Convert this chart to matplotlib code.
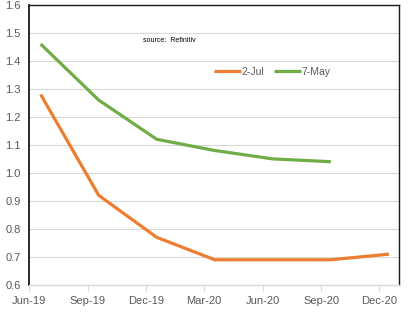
import matplotlib

matplotlib.use("Agg")
import matplotlib.pyplot as plt
import matplotlib.dates as mdates
from datetime import datetime

plt.rcParams["font.family"] = ["Liberation Sans", "DejaVu Sans"]

# contract dates (IMM expiries)
dates = ["2019-06-19", "2019-09-18", "2019-12-18", "2020-03-18",
         "2020-06-17", "2020-09-16", "2020-12-16"]
jul_2 = [1.28, 0.92, 0.77, 0.69, 0.69, 0.69, 0.71]
may_7 = [1.46, 1.26, 1.12, 1.08, 1.05, 1.04]
tick_months = ["2019-06-01", "2019-09-01", "2019-12-01", "2020-03-01",
               "2020-06-01", "2020-09-01", "2020-12-01"]

x = [datetime.fromisoformat(d) for d in dates]
ticks = [datetime.fromisoformat(d) for d in tick_months]

fig = plt.figure(figsize=(4.11, 3.22), dpi=100)
ax = fig.add_axes([0.071, 0.115, 0.9, 0.87])

ax.plot(x, jul_2, color="#ED7D31", lw=2.3, label="2-Jul", solid_capstyle="butt")
ax.plot(x[:len(may_7)], may_7, color="#70AD47", lw=2.3, label="7-May",
        solid_capstyle="butt")

ax.set_ylim(0.6, 1.6)
ax.set_yticks([0.6 + 0.1 * i for i in range(11)])
ax.yaxis.set_major_formatter(matplotlib.ticker.FormatStrFormatter("%.1f"))
ax.set_xlim(datetime(2019, 6, 1), datetime(2021, 1, 1))
ax.set_xticks(ticks)
ax.xaxis.set_major_formatter(mdates.DateFormatter("%b-%y"))

ax.yaxis.grid(True, color="#d9d9d9", lw=0.8)
ax.set_axisbelow(True)

for side in ["left", "top", "right"]:
    ax.spines[side].set_color("#1a1a1a")
    ax.spines[side].set_linewidth(1.0)
ax.spines["left"].set_linewidth(1.3)
ax.spines["bottom"].set_color("#d9d9d9")
ax.spines["bottom"].set_linewidth(1.0)

ax.tick_params(axis="y", length=0, pad=6, labelsize=8, labelcolor="#595959")
ax.tick_params(axis="x", length=4, color="#d9d9d9", pad=4, labelsize=8,
               labelcolor="#595959")

ax.text(0.307, 0.867, "source:  Refinitiv", transform=ax.transAxes,
        fontsize=5, color="black")

ax.legend(loc="center left", bbox_to_anchor=(0.475, 0.76), ncols=2, frameon=False,
          fontsize=7.5, handlelength=2.6, handletextpad=0.05, columnspacing=0.9,
          labelcolor="#595959")

plt.savefig("out.png", dpi=100)
